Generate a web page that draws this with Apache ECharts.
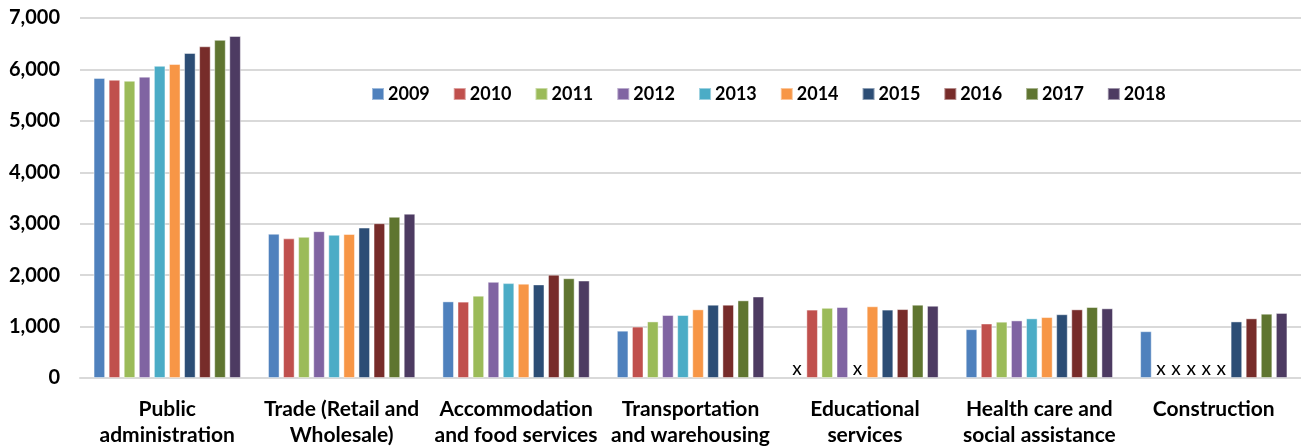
<!DOCTYPE html>
<html>
<head>
<meta charset="utf-8">
<script src="https://cdn.jsdelivr.net/npm/echarts@6/dist/echarts.min.js"></script>
<style>
html,body{margin:0;padding:0;background:#fff;}
#chart{width:1301px;height:448px;}
</style>
</head>
<body>
<div id="chart"></div>
<script>
const categories = ["Public\nadministration", "Trade (Retail and\nWholesale)", "Accommodation\nand food services", "Transportation\nand warehousing", "Educational\nservices", "Health care and\nsocial assistance", "Construction"];
const years = ["2009","2010","2011","2012","2013","2014","2015","2016","2017","2018"];
const v2009 = [5835, 2805, 1490, 920, null, 950, 910];
const v2010 = [5800, 2715, 1485, 1000, 1330, 1060, null];
const v2011 = [5780, 2745, 1600, 1100, 1365, 1095, null];
const v2012 = [5860, 2855, 1870, 1225, 1380, 1120, null];
const v2013 = [6070, 2785, 1845, 1225, null, 1160, null];
const v2014 = [6105, 2800, 1835, 1335, 1395, 1185, null];
const v2015 = [6320, 2925, 1820, 1425, 1330, 1240, 1100];
const v2016 = [6450, 3010, 2010, 1425, 1340, 1335, 1160];
const v2017 = [6575, 3135, 1940, 1510, 1425, 1380, 1250];
const v2018 = [6650, 3195, 1895, 1585, 1405, 1355, 1265];
const yTicks = [0, 1000, 2000, 3000, 4000, 5000, 6000, 7000];
const missingMark = "x";

const seriesValues = [v2009, v2010, v2011, v2012, v2013, v2014, v2015, v2016, v2017, v2018];
const colors = ["#4F81BD","#C0504D","#9BBB59","#8064A2","#4BACC6","#F79646","#2C4D75","#772C2A","#5F7530","#4D3B62"];
const FONT = "Lato, 'Open Sans', 'DejaVu Sans', sans-serif";

const chart = echarts.init(document.getElementById('chart'), null, {renderer: 'canvas'});
const series = years.map((y, i) => ({
  name: y,
  type: 'bar',
  barWidth: 11.6,
  barGap: '30%',
  itemStyle: {color: colors[i], borderColor: 'rgba(255,255,255,0.45)', borderWidth: 1},
  data: seriesValues[i].map(v => v === null ? {
    value: 0,
    itemStyle: {borderWidth: 0, color: 'rgba(0,0,0,0)'},
    label: {show: true, position: 'top', distance: 0, formatter: missingMark,
            color: '#000', fontSize: 19, fontFamily: FONT}
  } : v)
}));

chart.setOption({
  animation: false,
  color: colors,
  grid: {left: 80, right: 0, top: 18, bottom: 68, containLabel: false},
  legend: {
    data: years,
    left: 366, top: 80,
    itemWidth: 12, itemHeight: 12, itemGap: 23,
    icon: 'rect',
    textStyle: {fontFamily: FONT, fontWeight: 'bold', fontSize: 18, color: '#000', padding: [0,0,0,-1]}
  },
  xAxis: {
    type: 'category',
    data: categories,
    axisLine: {lineStyle: {color: '#d9d9d9', width: 2}},
    axisTick: {alignWithLabel: true, length: 5, lineStyle: {color: '#d9d9d9', width: 2}},
    axisLabel: {interval: 0, margin: 18, fontFamily: FONT, fontWeight: 'bold', fontSize: 21, color: '#000', lineHeight: 26}
  },
  yAxis: {
    type: 'value',
    min: yTicks[0], max: yTicks[yTicks.length - 1], interval: 1000,
    axisLine: {show: false},
    axisTick: {show: false},
    splitLine: {lineStyle: {color: '#d9d9d9', width: 2}},
    axisLabel: {margin: 20, fontFamily: FONT, fontWeight: 'bold', fontSize: 20, color: '#000',
      formatter: v => v.toLocaleString('en-US')}
  },
  series: series
});
</script>
</body>
</html>
